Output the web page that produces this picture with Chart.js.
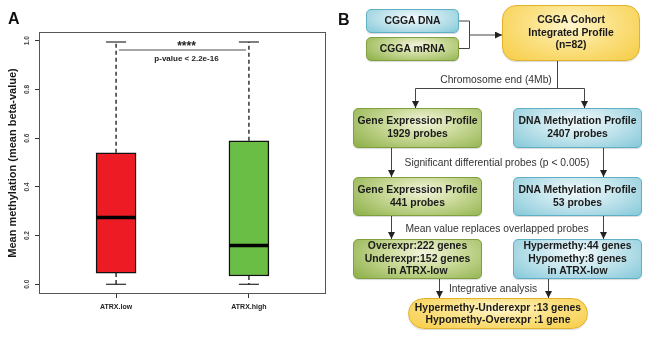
<!DOCTYPE html>
<html lang="en">

<head>
    <meta charset="UTF-8">
    <title>ATRX methylation</title>
    <script src="https://cdn.jsdelivr.net/npm/chart.js"></script>
    <style>
        body {
            margin: 0;
            background: #fff;
            font-family: "Liberation Sans", Arial, sans-serif;
        }

        #wrap {
            position: relative;
            width: 650px;
            height: 341px;
            overflow: hidden;
        }

        #panelA {
            position: absolute;
            left: 0;
            top: 0;
        }

        .panel-label {
            position: absolute;
            font-weight: bold;
            font-size: 16px;
            color: #111;
        }

        .box {
            position: absolute;
            box-sizing: border-box;
            display: flex;
            align-items: center;
            justify-content: center;
            text-align: center;
            font-weight: bold;
            font-size: 10.4px;
            line-height: 12.6px;
            color: #1a1a1a;
            border-radius: 5px;
            box-shadow: 0 1px 1px rgba(0, 0, 0, 0.15);
        }

        .blue {
            border: 1px solid #5fb0c4;
            background: radial-gradient(ellipse 70% 95% at 50% 35%, #f2fafb 0%, #c4e5ed 45%, #84c8d9 100%);
        }

        .green {
            border: 1px solid #80a040;
            background: radial-gradient(ellipse 70% 95% at 55% 35%, #f3f4dc 0%, #c8d896 45%, #90b24c 100%);
        }

        .yellow {
            border: 1px solid #e2b12a;
            background: radial-gradient(ellipse 70% 95% at 50% 35%, #fff6cc 0%, #fbe184 45%, #f6cc44 100%);
        }

        .note {
            position: absolute;
            font-size: 10.3px;
            color: #333;
            white-space: nowrap;
            transform: translate(-50%, -50%);
        }
    </style>
</head>

<body>
    <div id="wrap">
        <canvas id="panelA" width="330" height="341"></canvas>
        <div class="panel-label" style="left:8px;top:10px;">A</div>

        <!-- panel B: flow chart -->
        <div class="panel-label" style="left:338px;top:11px;">B</div>
        <svg width="650" height="341" style="position:absolute;left:0;top:0;">
            <defs>
                <marker id="arr" markerWidth="7" markerHeight="7" refX="7" refY="3.5" orient="auto" markerUnits="userSpaceOnUse">
                    <path d="M0,0 L7,3.5 L0,7 z" fill="#222" />
                </marker>
            </defs>
            <g stroke="#444" stroke-width="1" fill="none">
                <polyline points="459,21 469.5,21 469.5,48.5 459,48.5" />
                <line x1="469.5" y1="35" x2="502" y2="35" marker-end="url(#arr)" />
                <line x1="557.5" y1="61" x2="557.5" y2="88.5" />
                <line x1="415.5" y1="88.5" x2="584.5" y2="88.5" />
                <line x1="415.5" y1="88.5" x2="415.5" y2="108" marker-end="url(#arr)" />
                <line x1="584.5" y1="88.5" x2="584.5" y2="108" marker-end="url(#arr)" />
                <line x1="391.5" y1="148" x2="391.5" y2="177" marker-end="url(#arr)" />
                <line x1="603.5" y1="148" x2="603.5" y2="177" marker-end="url(#arr)" />
                <line x1="391.5" y1="216" x2="391.5" y2="239" marker-end="url(#arr)" />
                <line x1="603.5" y1="216" x2="603.5" y2="239" marker-end="url(#arr)" />
                <line x1="439.5" y1="279" x2="439.5" y2="298" marker-end="url(#arr)" />
                <line x1="548.5" y1="279" x2="548.5" y2="298" marker-end="url(#arr)" />
            </g>
        </svg>

        <div class="box blue" style="left:366px;top:9px;width:93px;height:24px;">CGGA DNA</div>
        <div class="box green" style="left:366px;top:37px;width:93px;height:24px;">CGGA mRNA</div>
        <div class="box yellow" style="left:502px;top:5px;width:138px;height:56px;border-radius:14px;">CGGA Cohort<br>Integrated Profile<br>(n=82)</div>

        <div class="note" style="left:496px;top:79px;">Chromosome end (4Mb)</div>

        <div class="box green" style="left:353px;top:108px;width:129px;height:40px;">Gene Expression Profile<br>1929 probes</div>
        <div class="box blue" style="left:513px;top:108px;width:129px;height:40px;">DNA Methylation Profile<br>2407 probes</div>

        <div class="note" style="left:497px;top:162px;">Significant differential probes (p &lt; 0.005)</div>

        <div class="box green" style="left:353px;top:177px;width:129px;height:39px;">Gene Expression Profile<br>441 probes</div>
        <div class="box blue" style="left:513px;top:177px;width:129px;height:39px;">DNA Methylation Profile<br>53 probes</div>

        <div class="note" style="left:497px;top:228px;">Mean value replaces overlapped probes</div>

        <div class="box green" style="left:353px;top:239px;width:129px;height:40px;">Overexpr:222 genes<br>Underexpr:152 genes<br>in ATRX-low</div>
        <div class="box blue" style="left:513px;top:239px;width:129px;height:40px;">Hypermethy:44 genes<br>Hypomethy:8 genes<br>in ATRX-low</div>

        <div class="note" style="left:493px;top:288px;">Integrative analysis</div>

        <div class="box yellow" style="left:408px;top:298px;width:180px;height:31px;border-radius:16px;line-height:12px;">Hypermethy-Underexpr :13 genes<br>Hypomethy-Overexpr :1 gene</div>
    </div>

    <script>
        // box plot summary values
        const groups = ['ATRX.low', 'ATRX.high'];
        const whiskerLow = [0.0, 0.0];
        const q1 = [0.046, 0.034];
        const median = [0.274, 0.159];
        const q3 = [0.540, 0.589];
        const whiskerHigh = [0.995, 0.995];
        const boxColors = ['#ed1c24', '#6abd45'];
        const yTicks = [0.0, 0.2, 0.4, 0.6, 0.8, 1.0];
        const sigLevel = 0.962;

        // whiskers, medians, frame and significance bar
        const boxExtras = {
            id: 'boxExtras',
            afterDatasetsDraw(chart) {
                const ctx = chart.ctx;
                const x = chart.scales.x;
                const y = chart.scales.y;
                const area = chart.chartArea;
                ctx.save();
                ctx.strokeStyle = '#000';
                for (let i = 0; i < groups.length; i++) {
                    const xc = x.getPixelForValue(i + 1);
                    // dashed whiskers
                    ctx.lineWidth = 1.2;
                    ctx.setLineDash([4, 3]);
                    ctx.beginPath();
                    ctx.moveTo(xc, y.getPixelForValue(q3[i]));
                    ctx.lineTo(xc, y.getPixelForValue(whiskerHigh[i]));
                    ctx.moveTo(xc, y.getPixelForValue(q1[i]));
                    ctx.lineTo(xc, y.getPixelForValue(whiskerLow[i]));
                    ctx.stroke();
                    ctx.setLineDash([]);
                    // caps
                    ctx.beginPath();
                    ctx.moveTo(xc - 10, y.getPixelForValue(whiskerHigh[i]));
                    ctx.lineTo(xc + 10, y.getPixelForValue(whiskerHigh[i]));
                    ctx.moveTo(xc - 10, y.getPixelForValue(whiskerLow[i]));
                    ctx.lineTo(xc + 10, y.getPixelForValue(whiskerLow[i]));
                    ctx.stroke();
                    // median
                    ctx.lineWidth = 3.5;
                    ctx.beginPath();
                    ctx.moveTo(xc - 19.5, y.getPixelForValue(median[i]));
                    ctx.lineTo(xc + 19.5, y.getPixelForValue(median[i]));
                    ctx.stroke();
                }

                // significance bar
                const sy = y.getPixelForValue(sigLevel);
                ctx.strokeStyle = '#888';
                ctx.lineWidth = 1.5;
                ctx.beginPath();
                ctx.moveTo(x.getPixelForValue(1) + 3, sy);
                ctx.lineTo(x.getPixelForValue(2) - 3, sy);
                ctx.stroke();
                const mx = x.getPixelForValue(1.53);
                ctx.fillStyle = '#222';
                ctx.textAlign = 'center';
                ctx.textBaseline = 'middle';
                ctx.font = 'bold 12px "Liberation Sans", Arial, sans-serif';
                ctx.fillText('****', mx, sy - 3.5);
                ctx.font = 'bold 8px "Liberation Sans", Arial, sans-serif';
                ctx.fillText('p-value < 2.2e-16', mx, sy + 9);

                // plot frame
                ctx.strokeStyle = '#555';
                ctx.lineWidth = 1;
                ctx.strokeRect(area.left + 0.5, area.top + 0.5, area.right - area.left - 1, area.bottom - area.top - 1);
                ctx.restore();
            }
        };

        const ctx = document.getElementById('panelA').getContext('2d');
        const boxChart = new Chart(ctx, {
            type: 'bar',
            data: {
                datasets: [{
                    data: groups.map((g, i) => ({ x: i + 1, y: [q1[i], q3[i]] })),
                    backgroundColor: boxColors,
                    borderColor: '#111',
                    borderWidth: 1.5,
                    borderSkipped: false,
                    barThickness: 40
                }]
            },
            options: {
                responsive: false,
                animation: false,
                layout: { padding: { top: 32, right: 4, left: 0, bottom: 0 } },
                plugins: {
                    legend: { display: false },
                    tooltip: { enabled: false }
                },
                scales: {
                    x: {
                        type: 'linear',
                        offset: false,
                        min: 0.42,
                        max: 2.58,
                        afterBuildTicks: s => { s.ticks = groups.map((g, i) => ({ value: i + 1 })); },
                        afterFit: s => { s.height = 47; },
                        ticks: {
                            callback: v => groups[v - 1],
                            font: { size: 7, weight: 'bold', family: '"Liberation Sans", Arial, sans-serif' },
                            color: '#222',
                            padding: 5,
                            maxRotation: 0
                        },
                        grid: { display: true, offset: false, drawOnChartArea: false, drawTicks: true, tickLength: 4, color: '#333' },
                        border: { display: false }
                    },
                    y: {
                        min: -0.04,
                        max: 1.036,
                        afterBuildTicks: s => { s.ticks = yTicks.map(v => ({ value: v })); },
                        afterFit: s => { s.width = 39; },
                        ticks: {
                            callback: v => v.toFixed(1),
                            minRotation: 90,
                            maxRotation: 90,
                            crossAlign: 'center',
                            padding: 3,
                            font: { size: 6.5, weight: 'bold', family: '"Liberation Sans", Arial, sans-serif' },
                            color: '#444'
                        },
                        grid: { display: true, drawOnChartArea: false, drawTicks: true, tickLength: 4, color: '#333' },
                        border: { display: false },
                        title: {
                            display: true,
                            text: 'Mean methylation (mean beta-value)',
                            font: { size: 11, weight: 'bold', family: '"Liberation Sans", Arial, sans-serif' },
                            color: '#1a1a1a',
                            padding: { top: 6, bottom: 0 }
                        }
                    }
                }
            },
            plugins: [boxExtras]
        });
    </script>
</body>

</html>
